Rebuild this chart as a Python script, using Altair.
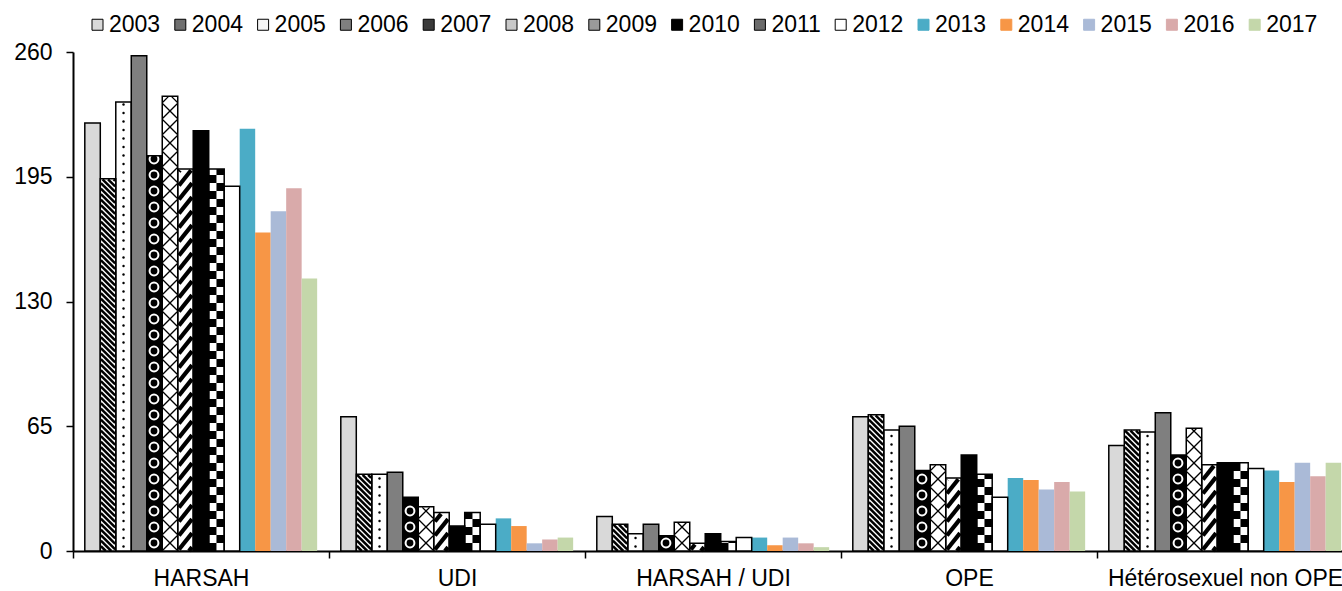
import math
import altair as alt
import pandas as pd

# ---- data -----------------------------------------------------------------
GROUPS = ["HARSAH", "UDI", "HARSAH / UDI", "OPE", "Hétérosexuel non OPE"]
YEARS = ["2003", "2004", "2005", "2006", "2007", "2008", "2009", "2010",
         "2011", "2012", "2013", "2014", "2015", "2016", "2017"]

HARSAH = [223, 194, 234, 258, 206, 237, 199, 219, 199, 190, 220, 166, 177, 189, 142]
UDI = [70, 40, 40, 41, 28, 23, 20, 13, 20, 14, 17, 13, 4, 6, 7]
HARSAH_UDI = [18, 14, 9, 14, 8, 15, 4, 9, 5, 7, 7, 3, 7, 4, 2]
OPE = [70, 71, 63, 65, 42, 45, 38, 50, 40, 28, 38, 37, 32, 36, 31]
HETERO = [55, 63, 62, 72, 50, 64, 45, 46, 46, 43, 42, 36, 46, 39, 46]
SERIES = [HARSAH, UDI, HARSAH_UDI, OPE, HETERO]

Y_TICKS = [0, 65, 130, 195, 260]

# ---- styling / layout -------------------------------------------------------
FONT = "Liberation Sans"
PLOT_W, PLOT_H = 1269, 499
Y_MAX = 260
GROUP_W = 256
BAR_W = 15.49
BAR_INSET = 11.8
PX = PLOT_H / Y_MAX  # pixels per unit on the y scale

BASE_FILL = {
    "2003": "#d9d9d9", "2004": "#ffffff", "2005": "#ffffff", "2006": "#7f7f7f",
    "2007": "#000000", "2008": "#ffffff", "2009": "#ffffff", "2010": "#000000",
    "2011": "#ffffff", "2012": "#ffffff", "2013": "#4bacc6", "2014": "#f79646",
    "2015": "#aabad7", "2016": "#d9aaaa", "2017": "#c4d7aa",
}
LEGEND_FILL = ["#d9d9d9", "#707070", "#f4f4f4", "#7f7f7f", "#3a3a3a",
               "#c8c8c8", "#9a9a9a", "#000000", "#6a6a6a", "#ffffff",
               "#4bacc6", "#f79646", "#aabad7", "#d9aaaa", "#c4d7aa"]
LEGEND_STROKE = ["#000000"] * 10 + LEGEND_FILL[10:]
OUTLINED = YEARS[:10]

# ---- bar geometry -------------------------------------------------------------
rows = []
for g, (name, vals) in enumerate(zip(GROUPS, SERIES)):
    for j, (year, v) in enumerate(zip(YEARS, vals)):
        x0 = g * GROUP_W + BAR_INSET + j * BAR_W
        rows.append(dict(group=name, year=year, value=v, base=0,
                         x0=x0, x1=x0 + BAR_W, fill=BASE_FILL[year]))
bars = pd.DataFrame(rows)


def hatch(x0, x1, top, slope, period, phase, xref, inset):
    """Parallel lines y = slope*(x-xref) + c clipped to the bar, in pixels."""
    a, b = x0 + inset, x1 - inset
    lo, hi = 0.0, top - inset
    if hi <= lo or b <= a:
        return []
    ua, ub = slope * (a - xref), slope * (b - xref)
    cmin, cmax = lo - max(ua, ub), hi - min(ua, ub)
    out = []
    for n in range(math.ceil((cmin - phase) / period), math.floor((cmax - phase) / period) + 1):
        c = phase + n * period
        ya, yb = ua + c, ub + c
        dy = yb - ya
        ta, tb = (lo - ya) / dy, (hi - ya) / dy
        t0, t1 = max(0.0, min(ta, tb)), min(1.0, max(ta, tb))
        if t1 - t0 > 1e-6:
            out.append(dict(x=a + (b - a) * t0, y=(ya + dy * t0) / PX,
                            x2=a + (b - a) * t1, y2=(ya + dy * t1) / PX))
    return out


fine_diag, cross, wide_diag, dots, rings, checks = [], [], [], [], [], []
for r in bars.itertuples():
    top = r.value * PX
    xc = (r.x0 + r.x1) / 2
    if r.year == "2004":
        fine_diag += hatch(r.x0, r.x1, top, -1.0, 5.5, 0.0, r.x0, 0.6)
    elif r.year == "2005":
        y = 4.5
        while y < top - 2:
            dots.append(dict(x=xc, y=y / PX))
            y += 8.5
    elif r.year == "2007":
        y = 8.0
        while y + 3 < top:
            rings.append(dict(x=xc - 0.5, y=y / PX))
            y += 16.0
    elif r.year == "2008":
        cross += hatch(r.x0, r.x1, top, 1.0, 16.0, 8.0, xc, 0.5)
        cross += hatch(r.x0, r.x1, top, -1.0, 16.0, 8.0, xc, 0.5)
    elif r.year == "2009":
        wide_diag += hatch(r.x0, r.x1, top, 1.25, 14.0, 0.0, r.x0, 1.2)
    elif r.year == "2011":
        cw, ch = BAR_W / 2, 8.0
        row = 0
        while row * ch < top:
            for col in range(2):
                if (row + col) % 2 == 0:
                    checks.append(dict(x=r.x0 + col * cw, x2=r.x0 + (col + 1) * cw,
                                       y=row * ch / PX, y2=min((row + 1) * ch, top) / PX))
            row += 1

# ---- scales and axes ------------------------------------------------------------
XS = alt.Scale(domain=[0, PLOT_W], nice=False, zero=False)
YS = alt.Scale(domain=[0, Y_MAX], nice=False)
names = "[" + ",".join("'" + n + "'" for n in GROUPS) + "]"
XAX = alt.Axis(values=[g * GROUP_W for g in range(len(GROUPS))],
               labelExpr=f"{names}[round(datum.value / {GROUP_W})]",
               labelOffset=GROUP_W / 2, labelAlign="center", labelFlush=False,
               labelBound=False, labelOverlap=False, labelPadding=9, labelLimit=0,
               tickSize=7, tickWidth=1.5, tickColor="black",
               domainColor="black", domainWidth=2, grid=False, title=None)
YAX = alt.Axis(values=Y_TICKS, labelFlush=False, labelPadding=14,
               tickSize=7, tickWidth=1.5, tickColor="black",
               domainColor="black", domainWidth=2, grid=False, title=None)


def xq(f):
    return alt.X(f, type="quantitative", scale=XS, axis=XAX)


def yq(f):
    return alt.Y(f, type="quantitative", scale=YS, axis=YAX)


base = alt.Chart(bars).mark_rect(strokeWidth=0).encode(
    x=xq("x0"), x2="x1", y=yq("value"), y2="base",
    color=alt.Color("fill:N", scale=None),
)

checker = alt.Chart(pd.DataFrame(checks)).mark_rect(color="black", strokeWidth=0).encode(
    x=xq("x"), x2="x2", y=yq("y"), y2="y2")

fine = alt.Chart(pd.DataFrame(fine_diag)).mark_rule(color="black", strokeWidth=2.5).encode(
    x=xq("x"), x2="x2", y=yq("y"), y2="y2")

crossed = alt.Chart(pd.DataFrame(cross)).mark_rule(color="black", strokeWidth=1.3).encode(
    x=xq("x"), x2="x2", y=yq("y"), y2="y2")

wide = alt.Chart(pd.DataFrame(wide_diag)).mark_rule(color="black", strokeWidth=4.2).encode(
    x=xq("x"), x2="x2", y=yq("y"), y2="y2")

dotted = alt.Chart(pd.DataFrame(dots)).mark_circle(color="black", size=6, opacity=1).encode(
    x=xq("x"), y=yq("y"))

ringed = alt.Chart(pd.DataFrame(rings)).mark_point(
    shape="circle", filled=False, color="white", strokeWidth=2, size=78, opacity=1
).encode(x=xq("x"), y=yq("y"))

outline = alt.Chart(bars[bars.year.isin(OUTLINED)]).mark_rect(
    fillOpacity=0, stroke="black", strokeWidth=1.5
).encode(x=xq("x0"), x2="x1", y=yq("value"), y2="base")

legend = alt.Legend(
    orient="none", legendX=13, legendY=-39, direction="horizontal", columns=15,
    title=None, symbolType="square", symbolSize=121, symbolStrokeWidth=1,
    symbolOpacity=1, labelFontSize=23, labelFont=FONT, labelColor="black",
    labelOffset=0, columnPadding=7.8, padding=0,
)
key = alt.Chart(pd.DataFrame({"year": YEARS})).mark_square(size=0, opacity=1).encode(
    x=alt.value(-1000), y=alt.value(-1000),
    fill=alt.Fill("year:N", scale=alt.Scale(domain=YEARS, range=LEGEND_FILL), legend=legend),
    stroke=alt.Stroke("year:N", scale=alt.Scale(domain=YEARS, range=LEGEND_STROKE), legend=legend),
)

chart = alt.layer(base, checker, fine, crossed, wide, dotted, ringed, outline, key).properties(
    width=PLOT_W, height=PLOT_H,
    autosize=alt.AutoSizeParams(type="none"),
    padding={"left": 73, "top": 52, "right": 0, "bottom": 40},
).configure_axis(
    labelFont=FONT, labelFontSize=23, labelColor="black",
).configure_view(stroke="transparent")

chart.save("out.html", embed_options={"renderer": "svg", "actions": False})
